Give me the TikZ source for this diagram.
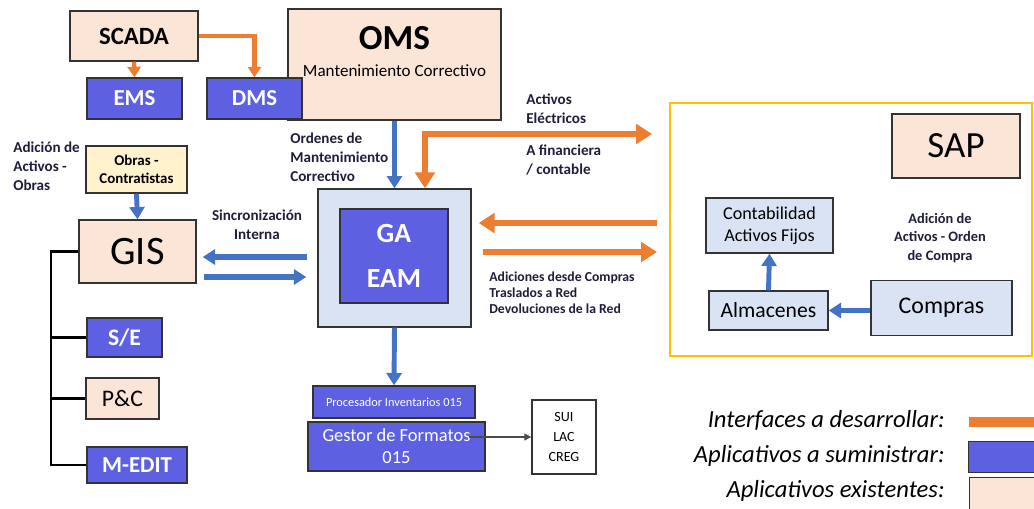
\documentclass[tikz,border=0pt]{standalone}
\usepackage{fontspec}
\setmainfont{Carlito}
\usetikzlibrary{arrows.meta}
\definecolor{peach}{HTML}{FBE5D6}
\definecolor{appblue}{HTML}{5E60E2}
\definecolor{lightblue}{HTML}{DAE3F3}
\definecolor{lightyellow}{HTML}{FFF2CC}
\definecolor{intorange}{HTML}{ED7D31}
\definecolor{arrblue}{HTML}{4472C4}
\definecolor{sapyellow}{HTML}{FFC000}
\definecolor{lbltext}{HTML}{1E1E3C}
\begin{document}
\begin{tikzpicture}[x=0.2mm,y=-0.2mm,
	caja/.style={draw=black!80,line width=0.8pt,inner sep=0pt,align=center},
	existe/.style={caja,fill=peach},
	sumin/.style={caja,fill=appblue,text=white},
	interno/.style={caja,fill=lightblue},
	iface/.style={draw=intorange,line width=3.3pt,-{Triangle[length=9pt,width=11pt]}},
	flujo/.style={draw=arrblue,line width=2.8pt,-{Triangle[length=7pt,width=8.5pt]}},
	rama/.style={draw=black,line width=1.2pt},
	etiq/.style={text=lbltext,font=\fontsize{8.6}{10.8}\selectfont\bfseries,align=left,inner sep=0pt},
	leyenda/.style={anchor=base east,inner sep=0pt,font=\fontsize{14}{16}\selectfont\itshape}]
			\clip (0,0) rectangle (1034,508);
			% sistemas de operacion
			\node[existe,minimum width=25.6mm,minimum height=10mm,font=\fontsize{14.1}{16}\selectfont\bfseries] (scada) at (134,36) {SCADA};
			\node[sumin,minimum width=19mm,minimum height=8.2mm,font=\fontsize{13}{15}\selectfont\bfseries] (ems) at (134.5,98.5) {EMS};
			\node[existe,minimum width=42.6mm,minimum height=22.2mm] (oms) at (394.5,64.5) {};
			\node[font=\fontsize{20}{22}\selectfont\bfseries] (omstit) at (394.5,38) {OMS};
			\node[font=\fontsize{9.7}{12}\selectfont] (omssub) at (394.5,71) {Mantenimiento Correctivo};
			\node[sumin,minimum width=19mm,minimum height=8.2mm,font=\fontsize{13}{15}\selectfont\bfseries] (dms) at (254.5,98.5) {DMS};
			% GIS y ramas
			\node[caja,fill=lightyellow,minimum width=20.2mm,minimum height=9.4mm,font=\fontsize{8.5}{10.2}\selectfont\bfseries] (obras) at (136.5,169.5) {Obras -\\Contratistas};
			\node[existe,minimum width=23.4mm,minimum height=12.6mm,font=\fontsize{23}{25}\selectfont] (gis) at (137.5,251.5) {GIS};
			\node[sumin,minimum width=15mm,minimum height=7.8mm,font=\fontsize{13.5}{15}\selectfont\bfseries] (se) at (124.5,337.5) {S/E};
			\node[existe,minimum width=14.6mm,minimum height=8.2mm,font=\fontsize{13.5}{15}\selectfont] (pc) at (122.5,398.5) {P\&C};
			\node[sumin,minimum width=20mm,minimum height=7.2mm,font=\fontsize{13}{15}\selectfont\bfseries] (medit) at (137,465) {M-EDIT};
			% GA EAM
			\node[interno,minimum width=30.6mm,minimum height=27.6mm] (gaext) at (394.5,258) {};
			\node[sumin,minimum width=21.6mm,minimum height=18.8mm,font=\fontsize{15.8}{26}\selectfont\bfseries] (gaeam) at (394,256) {GA\\EAM};
			\node[sumin,minimum width=32.4mm,minimum height=6.4mm,font=\fontsize{7}{8}\selectfont] (procinv) at (394,402) {Procesador Inventarios 015};
			\node[sumin,minimum width=35.4mm,minimum height=9.8mm,font=\fontsize{10.5}{12.5}\selectfont] (gestor) at (396.5,446.5) {Gestor de Formatos\\015};
			\node[caja,fill=white,minimum width=12.8mm,minimum height=14.8mm,font=\fontsize{8}{11.4}\selectfont] (sui) at (564,437) {SUI\\LAC\\CREG};
			% SAP
			\node[draw=sapyellow,line width=1.6pt,minimum width=72.4mm,minimum height=50.6mm,inner sep=0pt] (sapmarco) at (851,229.5) {};
			\node[existe,minimum width=25.6mm,minimum height=12.8mm,font=\fontsize{21}{23}\selectfont] (sap) at (956,146) {SAP};
			\node[interno,minimum width=25.4mm,minimum height=11mm,font=\fontsize{10.3}{12.5}\selectfont] (conta) at (769.5,225.5) {Contabilidad\\Activos Fijos};
			\node[interno,minimum width=23.8mm,minimum height=7.8mm,font=\fontsize{12.3}{14}\selectfont] (alma) at (768.5,310.5) {Almacenes};
			\node[interno,minimum width=28.2mm,minimum height=11mm,font=\fontsize{13.6}{15}\selectfont] (compras) at (941.5,308) {Compras};
			% etiquetas
			\node[etiq,anchor=west] (lblobras) at (13,166) {Adición de\\Activos -\\Obras};
			\node[etiq,anchor=west] (lblordenes) at (290,157) {Ordenes de\\Mantenimiento\\Correctivo};
			\node[etiq,anchor=west] (lblact) at (526,108.5) {Activos\\Eléctricos};
			\node[etiq,anchor=west] (lblfin) at (526,160.5) {A financiera\\/ contable};
			\node[etiq,align=center] (lblsync) at (257,224.5) {Sincronización\\Interna};
			\node[etiq,anchor=west,font=\fontsize{7.8}{9.1}\selectfont\bfseries] (lbladic) at (489,293) {Adiciones desde Compras\\Traslados a Red\\Devoluciones de la Red};
			\node[etiq,align=center,font=\fontsize{8.2}{10.5}\selectfont\bfseries] (lblsap) at (940,238) {Adición de\\Activos - Orden\\de Compra};
			% leyenda
			\node[leyenda] (legint) at (945,427) {Interfaces a desarrollar:};
			\node[leyenda] (legsumt) at (945,462) {Aplicativos a suministrar:};
			\node[leyenda] (legexit) at (945,497) {Aplicativos existentes:};
			\coordinate (legori) at (969,422);
			\draw[draw=intorange,line width=5.7pt] (legori) -- ++(90,0);
			\node[sumin,anchor=north west,minimum width=16mm,minimum height=6.2mm] (legsum) at (968,441) {};
			\node[existe,anchor=north west,minimum width=16mm,minimum height=8mm] (legexi) at (969,477) {};
			% interfaces
			\draw[iface,line width=2.5pt,-{Triangle[length=6pt,width=7.5pt]}] (scada.south) -- (ems.north);
			\draw[iface,line width=2.5pt,-{Triangle[length=6pt,width=7.5pt]}] (scada.east) -| (dms.north);
			\coordinate (sapent) at (652,134);
			\draw[iface,{Triangle[length=9pt,width=11pt]}-{Triangle[length=9pt,width=11pt]}] (sapent) -| ([xshift=6.1mm]gaext.north);
			\coordinate (sapsal) at (657,223);
			\coordinate (sapent2) at (657,252);
			\draw[iface,shorten >=1.4mm] (sapsal) -- (sapsal -| gaext.east);
			\draw[iface,shorten <=2.2mm] (gaext.east |- sapent2) -- (sapent2);
			% flujos
			\draw[flujo] (oms.south) -- (gaext.north);
			\draw[flujo] (obras.south) -- (gis.north);
			\draw[flujo] (gaext.south) -- (procinv.north);
			\draw[flujo] (alma.north) -- (conta.south);
			\draw[flujo] (compras.west |- alma.east) -- (alma.east);
			\coordinate (synca) at (0,257);
			\coordinate (syncb) at (0,277);
			\draw[flujo,line width=3.4pt,shorten <=2mm,shorten >=1.2mm] (gaext.west |- synca) -- (gis.east |- synca);
			\draw[flujo,line width=3.4pt,shorten <=1.4mm,shorten >=2.2mm] (gis.east |- syncb) -- (gaext.west |- syncb);
			% ramas GIS
			\coordinate (tronco) at (51,251.5);
			\draw[rama] (gis.west) -- (tronco) |- (medit.west);
			\draw[rama] (tronco |- se.west) -- (se.west);
			\draw[rama] (tronco |- pc.west) -- (pc.west);
			\draw[black!70,line width=0.7pt,-{Triangle[length=4pt,width=4pt]},shorten <=-3.4mm] (gestor.east |- sui.west) -- (sui.west);
		\end{tikzpicture}
\end{document}
